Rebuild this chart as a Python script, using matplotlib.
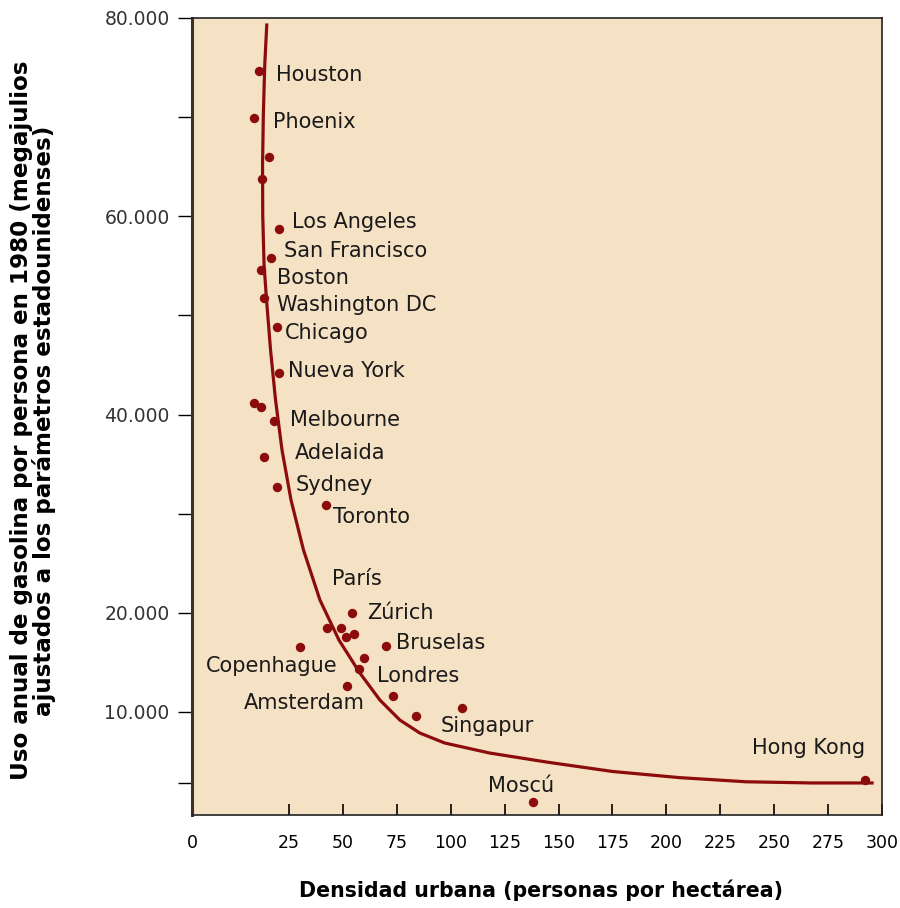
import matplotlib.pyplot as plt

# city points (density in persons/ha, gasoline use in MJ per person)
cities = ["Houston", "Phoenix", "", "", "Los Angeles", "San Francisco", "Boston",
          "Washington DC", "Chicago", "Nueva York", "", "", "Melbourne", "Adelaida",
          "Sydney", "Toronto", "Copenhague", "", "París", "", "", "Zúrich", "Bruselas",
          "", "Londres", "Amsterdam", "", "", "Singapur", "Moscú", "Hong Kong"]
density = [11.1, 8.8, 15.7, 12.5, 20.4, 16.6, 12.0,
           13.4, 19.4, 20.4, 8.8, 12.0, 18.1, 13.4,
           19.4, 42.1, 30.1, 42.5, 48.9, 51.2, 55.2, 54.3, 69.9,
           59.8, 57.4, 52.0, 73.0, 83.8, 105.4, 138.2, 292.0]
fuel = [74700, 69900, 66000, 63800, 58700, 55800, 54600,
        51800, 48800, 44200, 41200, 40800, 39350, 35700,
        32700, 30900, 16550, 18500, 18500, 17550, 17860, 19970, 16650,
        15440, 14330, 12620, 11640, 9570, 10450, 900, 3140]

# fitted curve
curve_density = [14.68, 13.75, 13.1, 12.73, 12.82, 13.43, 14.58, 16.44, 18.75, 21.76,
                 25.93, 31.71, 39.35, 48.15, 57.87, 67.13, 76.39, 85.65, 97.22,
                 118.06, 144.44, 175.0, 206.0, 237.0, 267.6, 295.4]
curve_fuel = [79290, 75260, 70220, 65170, 60130, 55090, 51560, 46510, 41470, 36420,
              31380, 26340, 21290, 17260, 13930, 11210, 9190, 7880, 6870,
              5860, 4950, 4000, 3380, 2960, 2840, 2840]

# label offsets from each dot, in pixels
label_offset = {
    "Houston": (17, -4), "Phoenix": (19, -4), "Los Angeles": (13, 7),
    "San Francisco": (13, 7), "Boston": (16, -8), "Washington DC": (13, -7),
    "Chicago": (8, -6), "Nueva York": (9, 2), "Melbourne": (16, 1),
    "Adelaida": (31, 4), "Sydney": (19, 2), "Toronto": (7, -12),
    "París": (-9, 49), "Zúrich": (15, 0), "Bruselas": (10, 3),
    "Copenhague": (-94, -19), "Londres": (18, -7), "Amsterdam": (-103, -17),
    "Singapur": (-22, -18), "Moscú": (-45, 16), "Hong Kong": (-113, 32),
}

yticks = [80000, 70000, 60000, 50000, 40000, 30000, 20000, 10000, 2830]
ylabels = ["80.000", "", "60.000", "", "40.000", "", "20.000", "10.000", ""]
xticks = [-20, 25, 50, 75, 100, 125, 150, 175, 200, 225, 250, 275, 300]
xlabels = ["0", "25", "50", "75", "100", "125", "150", "175", "200", "225",
           "250", "275", "300"]

red = "#8c0c0c"

fig = plt.figure(figsize=(9, 9.08), dpi=100)
ax = fig.add_axes([0.2133, 0.1024, 0.7667, 0.8778])
ax.set_facecolor("#f5e1c3")

ax.plot(curve_density, curve_fuel, color=red, lw=2.3, solid_joinstyle="round", zorder=2)
ax.scatter(density, fuel, s=46, color=red, zorder=3, linewidths=0)

for name, x, y in zip(cities, density, fuel):
    if not name:
        continue
    dx, dy = label_offset[name]
    ax.annotate(name, (x, y), xytext=(dx, dy), textcoords="offset pixels",
                ha="left", va="center", fontsize=15, color="#1a1a1a")

ax.set_xlim(-20, 300)
ax.set_ylim(-393, 80000)

ax.set_yticks(yticks)
ax.set_yticklabels(ylabels, fontsize=13.5, color="#333333")
ax.set_xticks(xticks)
ax.set_xticklabels(xlabels, fontsize=12.5)
ax.tick_params(axis="y", direction="out", length=10, width=1, pad=6)
ax.tick_params(axis="x", direction="in", length=8, width=1.2, pad=14)

for side in ["top", "right", "bottom"]:
    ax.spines[side].set_linewidth(1.2)
    ax.spines[side].set_color("#222222")
ax.spines["left"].set_linewidth(2.2)
ax.spines["left"].set_color("#3a3226")

fig.text(0.037, 0.537, "Uso anual de gasolina por persona en 1980 (megajulios\n"
         "ajustados a los parámetros estadounidenses)",
         rotation=90, ha="center", va="center", fontsize=16.6,
         fontweight="bold", linespacing=0.95)
fig.text(0.601, 0.02, "Densidad urbana (personas por hectárea)",
         ha="center", va="center", fontsize=14.8, fontweight="bold")

fig.savefig("out.png", dpi=100)
